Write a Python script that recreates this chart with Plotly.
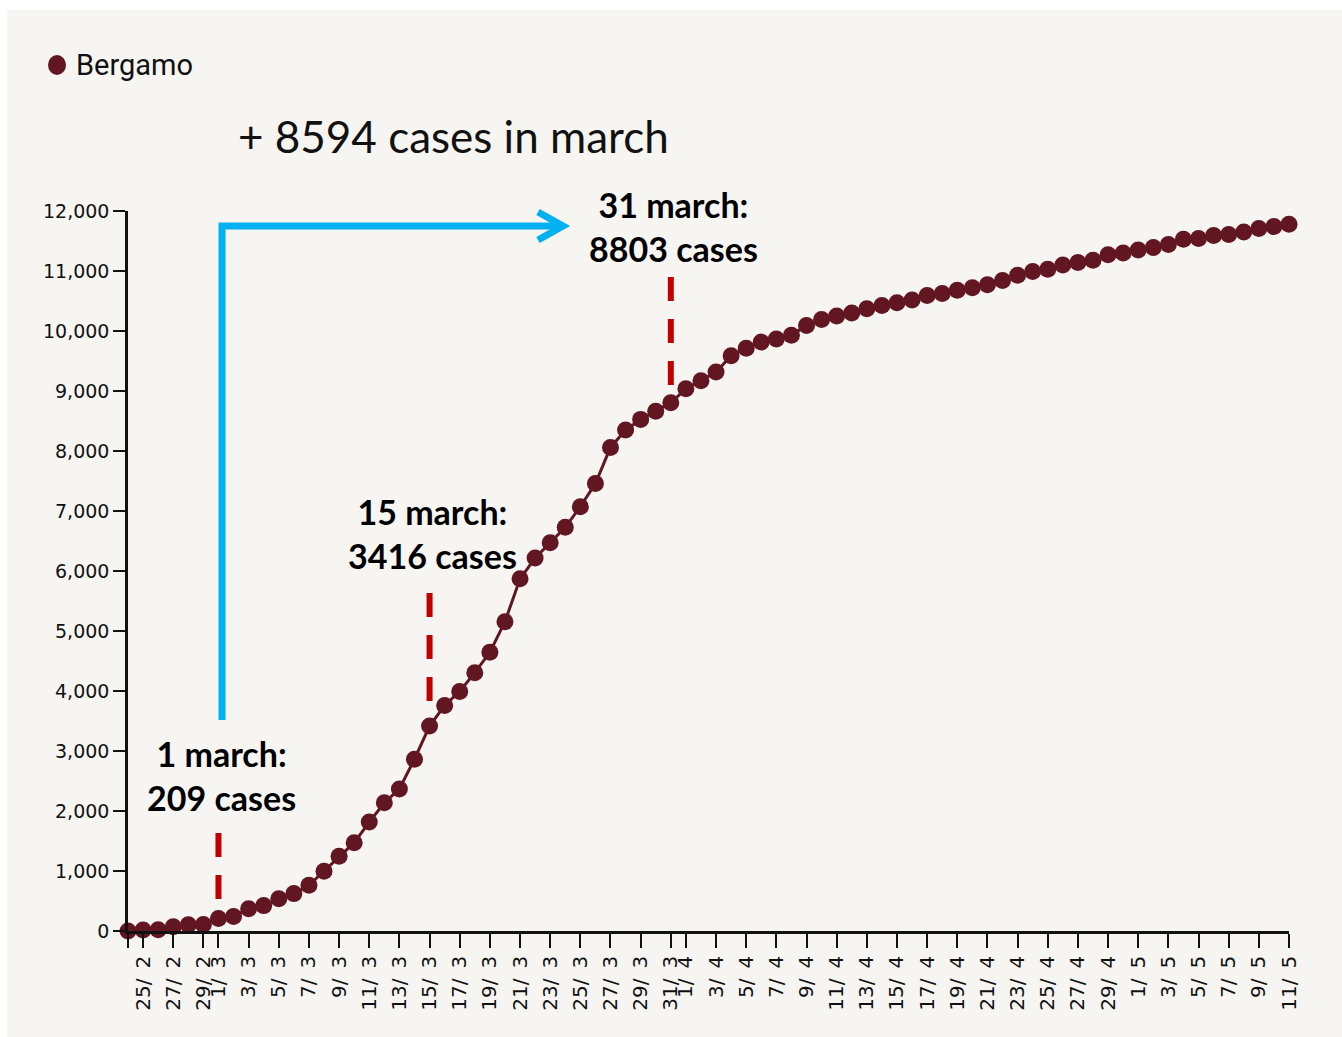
import pandas as pd
import plotly.graph_objects as go

# Cumulative confirmed COVID-19 cases, province of Bergamo, 24 Feb - 11 May 2020
start_date = "2020-02-24"
cases_feb = [0, 18, 20, 72, 103, 110]
cases_mar = [209, 243, 372, 423, 537, 623, 761, 997, 1245, 1472,
             1815, 2136, 2368, 2864, 3416, 3760, 3993, 4305, 4645, 5154,
             5869, 6216, 6471, 6728, 7072, 7458, 8060, 8349, 8527, 8664,
             8803]
cases_apr = [9039, 9171, 9315, 9588, 9712, 9815, 9868, 9931, 10090, 10190,
             10250, 10300, 10370, 10425, 10472, 10518, 10590, 10626, 10680, 10720,
             10770, 10840, 10930, 10990, 11030, 11100, 11140, 11180, 11270, 11300]
cases_may = [11350, 11390, 11440, 11530, 11540, 11590, 11610, 11650, 11710, 11740,
             11780]
series_name = "Bergamo"
y_ticks = list(range(0, 12001, 1000))
highlight_days = ["2020-03-01", "2020-03-15", "2020-03-31"]

cases = cases_feb + cases_mar + cases_apr + cases_may
dates = pd.date_range(start_date, periods=len(cases), freq="D")
by_date = dict(zip(dates, cases))

# ticks on odd days (plus the first day, unlabeled)
tick_dates = [d for d in dates if d.day % 2 == 1 or d == dates[0]]
tick_text = ["" if d == dates[0] else f"{d.day}/\u2002{d.month}" for d in tick_dates]

W, H = 1342, 1037
L, R, T, B = 128, 53, 211, 106
PW, PH = W - L - R, H - T - B


def fx(px):
    return (px - L) / PW


def fy(py):
    return (H - B - py) / PH


def path(points):
    return "M " + " L ".join(f"{fx(x):.5f},{fy(y):.5f}" for x, y in points)


DARK = "#611622"
RED = "#c00000"
BLUE = "#00b0f0"

fig = go.Figure()
fig.add_trace(go.Scatter(
    x=dates, y=cases, mode="lines+markers", name=series_name,
    line=dict(color=DARK, width=3),
    marker=dict(size=17, color=DARK),
    cliponaxis=False, showlegend=False,
))

shapes = [
    # panel background
    dict(type="rect", xref="paper", yref="paper", layer="below",
         x0=fx(7), x1=fx(W + 5), y0=fy(H + 5), y1=fy(10),
         fillcolor="#f6f5f2", line=dict(width=0)),
    # legend dot
    dict(type="circle", xref="paper", yref="paper",
         x0=fx(48), x1=fx(66), y0=fy(75), y1=fy(55),
         fillcolor=DARK, line=dict(width=0)),
    # blue bracket arrow
    dict(type="path", xref="paper", yref="paper",
         path=path([(222, 720), (222, 226), (562, 226)]),
         line=dict(color=BLUE, width=7)),
    dict(type="path", xref="paper", yref="paper",
         path=path([(538, 212), (563, 226), (538, 240)]),
         line=dict(color=BLUE, width=7)),
]

# red dashed guides above the highlighted days
guide_spans = [(1633, 533), (5633, 3833), (10900, 9100)]
for day, (top, bottom) in zip(highlight_days, guide_spans):
    shapes.append(dict(type="line", xref="x", yref="y",
                       x0=day, x1=day, y0=top, y1=bottom,
                       line=dict(color=RED, width=6, dash="24px,18px")))

label_y = [775, 533, 226]
annotations = []
for day, py in zip(highlight_days, label_y):
    d = pd.Timestamp(day)
    annotations.append(dict(
        x=day, xref="x", xshift=3, y=fy(py), yref="paper",
        text=f"<b>{d.day} march:<br>{by_date[d]} cases</b>",
        showarrow=False, xanchor="center", yanchor="middle", align="center",
        font=dict(family="Lato, Carlito, sans-serif", size=34, color="#000000"),
    ))

march_gain = by_date[pd.Timestamp(highlight_days[2])] - by_date[pd.Timestamp(highlight_days[0])]
annotations.append(dict(
    x=fx(236), y=fy(136), xref="paper", yref="paper",
    text=f"+ {march_gain} cases in march", showarrow=False,
    xanchor="left", yanchor="middle",
    font=dict(family="Lato, Carlito, sans-serif", size=44, color="#111111"),
))
annotations.append(dict(
    x=fx(74), y=fy(65), xref="paper", yref="paper",
    text=series_name, showarrow=False, xanchor="left", yanchor="middle",
    font=dict(family="Roboto, sans-serif", size=29, color="#111111"),
))

fig.update_layout(
    width=W, height=H,
    margin=dict(l=L, r=R, t=T, b=B, pad=0),
    paper_bgcolor="#ffffff", plot_bgcolor="rgba(0,0,0,0)",
    shapes=shapes, annotations=annotations,
    xaxis=dict(
        type="date", range=[dates[0], dates[-1]],
        tickmode="array", tickvals=tick_dates, ticktext=tick_text,
        tickangle=-90, ticks="outside", ticklen=14, tickwidth=2, tickcolor="#111111",
        showline=True, linecolor="#111111", linewidth=2.5,
        showgrid=False, zeroline=False,
        tickfont=dict(family="DejaVu Sans, sans-serif", size=20, color="#111111"),
    ),
    yaxis=dict(
        range=[0, 12000], tickmode="array", tickvals=y_ticks,
        tickformat=",", ticks="outside", ticklen=12, tickwidth=2, tickcolor="#111111",
        showline=True, linecolor="#111111", linewidth=2.5,
        showgrid=False, zeroline=False,
        tickfont=dict(family="DejaVu Sans, sans-serif", size=19, color="#111111"),
    ),
)

fig.write_html("out.html")
